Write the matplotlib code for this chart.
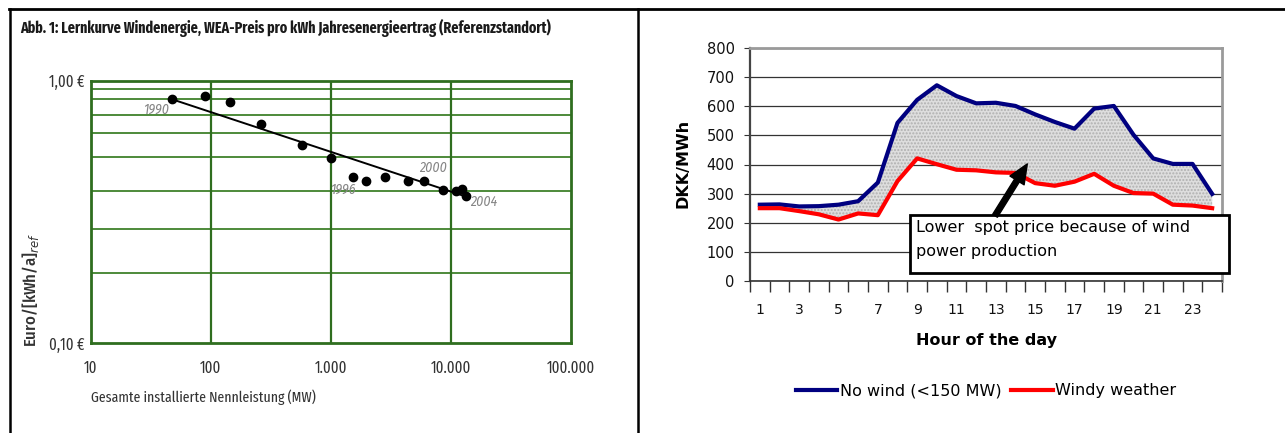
import numpy as np
import matplotlib
matplotlib.use('Agg')
import matplotlib.pyplot as plt
import matplotlib.lines as mlines
from matplotlib.patches import Rectangle

# left panel: learning curve wind energy (log-log)
mw_installed = [48, 89, 145, 262, 574, 1002, 1545, 1972, 2840, 4441, 5998, 8690, 11090, 12450, 13430]
price_per_kwh = [0.849, 0.875, 0.828, 0.682, 0.569, 0.509, 0.429, 0.415, 0.429, 0.415, 0.416, 0.384, 0.381, 0.386, 0.364]
trend_mw = [48, 13430]
trend_price = [0.849, 0.362]
year_labels = ['1990', '1996', '2000', '2004']
year_label_x = [35, 1262, 7178, 18730]
year_label_y = [0.778, 0.384, 0.4665, 0.346]
left_xticks = [10, 100, 1000, 10000, 100000]
left_xticklabels = ['10', '100', '1.000', '10.000', '100.000']
left_yticks = [0.1, 1.0]
left_yticklabels = ['0,10 €', '1,00 €']
left_hgrid = [0.185, 0.272, 0.381, 0.511, 0.631, 0.740, 0.849, 0.927]
left_vgrid = [100, 1000, 10000]

# right panel: spot price by hour
hours = list(range(1, 25))
no_wind = [262, 263, 256, 257, 262, 274, 338, 543, 622, 672, 635, 610,
           612, 601, 572, 546, 523, 592, 601, 502, 421, 402, 402, 299]
windy = [250, 250, 240, 229, 211, 232, 226, 343, 421, 401, 382, 380,
         373, 371, 336, 327, 341, 368, 327, 302, 300, 262, 259, 250]
right_xticks = list(range(1, 24, 2))
right_yticks = list(range(0, 801, 100))

narrow = ['Fira Sans Condensed', 'Roboto Condensed', 'Open Sans Condensed', 'DejaVu Sans']
xnarrow = ['Fira Sans Extra Condensed', 'Fira Sans Condensed', 'Roboto Condensed', 'DejaVu Sans']
sans = ['DejaVu Sans']
W, H = 1285, 433
green = '#2f6e1f'

fig = plt.figure(figsize=(W / 100, H / 100), dpi=100)

# table borders
fig.add_artist(mlines.Line2D([9 / W, 1], [1 - 8.7 / H] * 2, color='black', lw=2, transform=fig.transFigure))
fig.add_artist(mlines.Line2D([9.5 / W] * 2, [0, 1 - 8.7 / H], color='black', lw=1.8, transform=fig.transFigure))
fig.add_artist(mlines.Line2D([638.2 / W] * 2, [0, 1 - 8.7 / H], color='black', lw=1.8, transform=fig.transFigure))

# ---- left
axL = fig.add_axes([90.6 / W, 1 - 343.3 / H, 480 / W, 262.6 / H])
axL.set_xscale('log')
axL.set_yscale('log')
axL.set_xlim(10, 100000)
axL.set_ylim(0.1, 1.0)
for v in left_hgrid:
    axL.axhline(v, color='#4d8a3a', lw=1.4, zorder=1)
for v in left_vgrid:
    axL.axvline(v, color=green, lw=1.6, zorder=1)
for s in axL.spines.values():
    s.set_color(green)
    s.set_linewidth(2)
axL.plot(trend_mw, trend_price, color='black', lw=1.4, zorder=3)
axL.scatter(mw_installed, price_per_kwh, s=36, color='black', zorder=4)
for lab, x, y in zip(year_labels, year_label_x, year_label_y):
    axL.text(x, y, lab, ha='center', va='center', fontsize=10, style='italic',
             color='#858585', family=narrow, zorder=5)
axL.set_xticks(left_xticks)
axL.set_xticklabels(left_xticklabels, family=xnarrow, fontsize=11.5, color='#333333')
axL.set_yticks(left_yticks)
axL.set_yticklabels(left_yticklabels, family=xnarrow, fontsize=11.5, color='#333333')
axL.minorticks_off()
axL.tick_params(axis='x', length=0, pad=12)
axL.tick_params(axis='y', length=0, pad=4)

fig.text(20 / W, 1 - 28 / H, 'Abb. 1: Lernkurve Windenergie, WEA-Preis pro kWh Jahresenergieertrag (Referenzstandort)',
         family=xnarrow, fontsize=11.0, fontweight='bold', color='#1a1a1a', ha='left', va='center')
fig.text(90.6 / W, 1 - 397 / H, 'Gesamte installierte Nennleistung (MW)',
         family=xnarrow, fontsize=10.8, color='#333333', ha='left', va='center')
fig.text(30.6 / W, 1 - 347 / H, r'Euro/[kWh/a]$_{ref}$', family=narrow, fontsize=12,
         fontweight='medium', color='#333333', rotation=90, ha='center', va='bottom')

# ---- right
axR = fig.add_axes([750 / W, 1 - 281 / H, 472 / W, 233 / H])
axR.set_axisbelow(True)
axR.yaxis.grid(True, color='#333333', lw=0.9)
axR.fill_between(hours, windy, no_wind, facecolor='#dedede', hatch='.....',
                 edgecolor='#b0b0b0', linewidth=0, zorder=2)
axR.plot(hours, no_wind, color='#000080', lw=3, label='No wind (<150 MW)', zorder=3)
axR.plot(hours, windy, color='#ff0000', lw=3, label='Windy weather', zorder=3)
axR.set_xlim(0.5, 24.5)
axR.set_ylim(0, 800)
axR.set_yticks(right_yticks)
axR.set_xticks(right_xticks)
axR.set_xticks(np.arange(0.5, 25, 1), minor=True)
axR.tick_params(axis='x', which='major', length=0, pad=16, labelsize=10)
axR.tick_params(axis='x', which='minor', length=8, color='#333333', width=1)
axR.tick_params(axis='y', length=4, color='#333333', pad=7, labelsize=10.5)
for lab in axR.get_xticklabels() + axR.get_yticklabels():
    lab.set_family(sans)
    lab.set_color('#111111')
axR.spines['left'].set_color('#444444')
axR.spines['left'].set_linewidth(1.6)
axR.spines['bottom'].set_color('#333333')
axR.spines['bottom'].set_linewidth(1.2)
for k in ('top', 'right'):
    axR.spines[k].set_color('#9a9a9a')
    axR.spines[k].set_linewidth(2)

axR.set_xlabel('Hour of the day', fontsize=11.5, fontweight='bold', family=sans)
axR.xaxis.set_label_coords(0.502, -0.222)
axR.set_ylabel('DKK/MWh', fontsize=11.5, fontweight='bold', family=sans)
axR.yaxis.set_label_coords(-0.125, 0.506)

box = Rectangle((0.339, 0.0343), 0.6748, 0.2487, transform=axR.transAxes, facecolor='white',
                edgecolor='black', lw=2, clip_on=False, zorder=5)
axR.add_patch(box)
axR.text(0.352, 0.2275, 'Lower  spot price because of wind', transform=axR.transAxes,
         fontsize=11.5, family=sans, ha='left', va='center', zorder=6)
axR.text(0.352, 0.1245, 'power production', transform=axR.transAxes,
         fontsize=11.5, family=sans, ha='left', va='center', zorder=6)
axR.annotate('', xy=(14.6, 402), xytext=(12.96, 224),
             arrowprops=dict(facecolor='black', edgecolor='black', width=4,
                             headwidth=12, headlength=14, shrink=0), zorder=7)

axR.legend(loc='center', bbox_to_anchor=(0.5, -0.471), ncol=2, frameon=False,
           prop={'family': sans, 'size': 11.5}, handlelength=2.6,
           handletextpad=0.15, columnspacing=0.6)

fig.savefig('out.png', dpi=100)
